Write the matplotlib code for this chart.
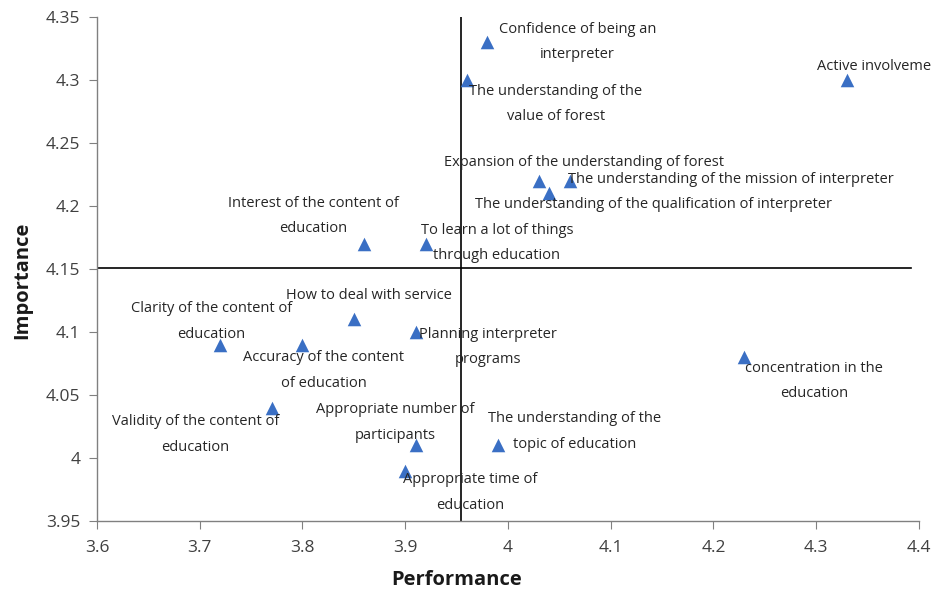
import matplotlib
matplotlib.use("Agg")
import matplotlib.pyplot as plt

labels = [
    "Confidence of being an\ninterpreter",
    "The understanding of the\nvalue of forest",
    "Active involveme",
    "Expansion of the understanding of forest",
    "The understanding of the mission of interpreter",
    "The understanding of the qualification of interpreter",
    "Interest of the content of\neducation",
    "To learn a lot of things\nthrough education",
    "How to deal with service",
    "Planning interpreter\nprograms",
    "Clarity of the content of\neducation",
    "Accuracy of the content\nof education",
    "concentration in the\neducation",
    "Validity of the content of\neducation",
    "Appropriate number of\nparticipants",
    "The understanding of the\ntopic of education",
    "Appropriate time of\neducation",
]
performance = [3.98, 3.96, 4.33, 4.03, 4.06, 4.04, 3.86, 3.92, 3.85, 3.91,
               3.72, 3.80, 4.23, 3.77, 3.91, 3.99, 3.90]
importance = [4.33, 4.30, 4.30, 4.22, 4.22, 4.21, 4.17, 4.17, 4.11, 4.10,
              4.09, 4.09, 4.08, 4.04, 4.01, 4.01, 3.99]
mean_performance = 3.954
mean_importance = 4.151

x_ticks = [3.6, 3.7, 3.8, 3.9, 4.0, 4.1, 4.2, 4.3, 4.4]
x_ticklabels = ["3.6", "3.7", "3.8", "3.9", "4", "4.1", "4.2", "4.3", "4.4"]
y_ticks = [3.95, 4.0, 4.05, 4.1, 4.15, 4.2, 4.25, 4.3, 4.35]
y_ticklabels = ["3.95", "4", "4.05", "4.1", "4.15", "4.2", "4.25", "4.3", "4.35"]

# label offsets in pixels (dx, dy up) and alignment
offsets = [
    (90, 0, "center"), (89, -24, "center"), (-30, 14, "left"),
    (45, 18, "center"), (-2, 1, "left"), (104, -11, "center"),
    (-51, 28, "center"), (71, 1, "center"), (15, 24, "center"),
    (72, -15, "center"), (-9, 23, "center"), (21, -26, "center"),
    (70, -24, "center"), (-76, -27, "center"), (-20, 23, "center"),
    (77, 14, "center"), (65, -22, "center"),
]

plt.rcParams['font.family'] = ['Open Sans', 'DejaVu Sans']

fig = plt.figure(figsize=(9.34, 5.95), dpi=100)
ax = fig.add_axes([97/934, 74/595, 822/934, 504/595])

ax.scatter(performance, importance, marker='^', s=95, color='#3a6fc4',
           zorder=3, linewidths=0)

ax.plot([mean_performance, mean_performance], [3.95, 4.35], color='black',
        lw=1.2, zorder=2)
ax.plot([3.6, 4.392], [mean_importance, mean_importance], color='black',
        lw=1.2, zorder=2)

for lab, x, y, (dx, dy, ha) in zip(labels, performance, importance, offsets):
    ax.annotate(lab, (x, y), xytext=(dx, dy), textcoords='offset pixels',
                ha=ha, va='center', fontsize=10.5, color='#262626',
                linespacing=1.95, zorder=4, annotation_clip=False)

ax.set_xlim(3.6, 4.4)
ax.set_ylim(3.95, 4.35)
ax.set_xticks(x_ticks)
ax.set_xticklabels(x_ticklabels)
ax.set_yticks(y_ticks)
ax.set_yticklabels(y_ticklabels)
ax.tick_params(axis='both', labelsize=12.5, labelcolor='#404040',
               color='#808080', length=6, direction='out')
ax.tick_params(axis='x', pad=8)
ax.tick_params(axis='y', pad=6)
for s in ['top', 'right']:
    ax.spines[s].set_visible(False)
for s in ['left', 'bottom']:
    ax.spines[s].set_color('#808080')
    ax.spines[s].set_linewidth(1.0)

fig.text(457/934, 1 - 580/595, "Performance", ha='center', va='center',
         fontsize=14.5, fontweight='bold', color='#1a1a1a')
fig.text(22/934, 1 - 280/595, "Importance", ha='center', va='center',
         rotation=90, fontsize=14.5, fontweight='bold', color='#1a1a1a')

fig.savefig("out.png", dpi=100)
